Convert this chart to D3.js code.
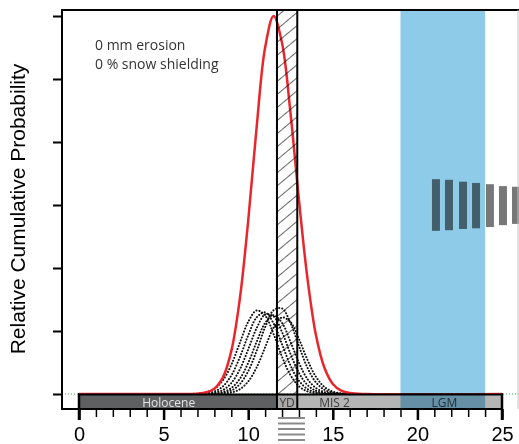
<!DOCTYPE html>
<head>
<meta charset="utf-8">
<script src="https://d3js.org/d3.v7.min.js"></script>
</head>
<style>
body { margin: 0; background: #fff; }
svg { display: block; }
.dots { fill: none; stroke: #111; stroke-width: 2px; stroke-dasharray: 0.1 3; stroke-linecap: round; }
.red { fill: none; stroke: #e8262b; stroke-width: 2.5px; }
.tick line { stroke: #000; }
</style>
<body>
<script>
// exposure ages (ka) and probability
var ageGrid = [0, 6, 7, 7.5, 8, 8.5, 9, 9.5, 10, 10.5, 11, 11.5, 12, 12.5, 13, 13.5, 14, 14.5, 15, 15.5, 16, 17, 25];
var sumProb = [0, 0, 0.005, 0.023, 0.085, 0.26, 0.68, 1.50, 2.75, 4.24, 5.50, 6.0, 5.57, 4.46, 3.08, 1.84, 0.94, 0.42, 0.16, 0.053, 0.015, 0, 0];
var sample1 = [0, 0, .006, .025, .081, .215, .462, .807, 1.146, 1.325, 1.245, .952, .592, .299, .123, .041, .011, .003, 0, 0, 0, 0, 0];
var sample2 = [0, 0, .002, .011, .040, .120, .293, .579, .931, 1.217, 1.295, 1.121, .789, .451, .211, .080, .025, .006, .001, 0, 0, 0, 0];
var sample3 = [0, 0, .001, .004, .019, .063, .173, .388, .707, 1.046, 1.260, 1.233, .983, .636, .335, .143, .050, .014, .003, .001, 0, 0, 0];
var sample4 = [0, 0, 0, .002, .008, .030, .095, .239, .494, .828, 1.128, 1.25, 1.128, .828, .494, .239, .095, .030, .008, .002, 0, 0, 0];
var sample5 = [0, 0, 0, .001, .004, .015, .054, .155, .362, .686, 1.060, 1.329, 1.358, 1.127, .762, .418, .186, .068, .020, .005, .001, 0, 0];
var sample6 = [0, 0, 0, 0, .001, .006, .023, .075, .198, .423, .741, 1.052, 1.215, 1.142, .874, .543, .275, .113, .038, .010, .002, 0, 0];
var samples = [sample1, sample2, sample3, sample4, sample5, sample6];

var periodName = ["Holocene", "YD", "MIS 2"];
var periodStart = [0, 11.7, 12.9];
var periodEnd = [11.7, 12.9, 25];
var periodFill = ["#5e6062", "#ababab", "#b5b5b5"];
var labelText = ["Holocene", "YD", "MIS 2", "LGM"];
var labelAge = [5.3, 12.3, 15.1, 21.6];
var lgmStart = 19, lgmEnd = 24;

var stripeAge = [20.86, 21.63, 22.46, 23.23, 24.05, 24.82, 25.59];
var stripeTop = [3.41, 3.40, 3.37, 3.35, 3.33, 3.30, 3.29];
var stripeBottom = [2.59, 2.60, 2.62, 2.63, 2.65, 2.68, 2.70];

var majorTicks = [0, 5, 10, 15, 20, 25];
var yTicks = [0, 1, 2, 3, 4, 5, 6];

var W = 519, H = 444;
var plotLeft = 62, plotTop = 10, plotBottom = 409;
var barTop = 395;

var x = d3.scaleLinear().domain([0, 25]).range([79, 502]);
var y = d3.scaleLinear().domain([0, 6]).range([394, 16]);

var svg = d3.select("body").append("svg")
    .attr("width", W)
    .attr("height", H)
    .style("font-family", "'Liberation Sans', Arial, sans-serif");

var defs = svg.append("defs");
defs.append("pattern")
    .attr("id", "hatch")
    .attr("patternUnits", "userSpaceOnUse")
    .attr("width", 10).attr("height", 10)
    .attr("patternTransform", "rotate(-40)")
  .append("line")
    .attr("x1", 0).attr("y1", 0).attr("x2", 10).attr("y2", 0)
    .attr("stroke", "#000").attr("stroke-width", 1.2);

// grey stripes on the right
svg.append("g").selectAll("rect")
    .data(stripeAge)
  .enter().append("rect")
    .attr("x", function(d) { return x(d); })
    .attr("width", 8)
    .attr("y", function(d, i) { return y(stripeTop[i]); })
    .attr("height", function(d, i) { return y(stripeBottom[i]) - y(stripeTop[i]); })
    .attr("fill", "#777");

// green zero line
svg.append("line")
    .attr("x1", plotLeft).attr("x2", W)
    .attr("y1", y(0)).attr("y2", y(0))
    .attr("stroke", "#3aa84a").attr("stroke-width", 1)
    .attr("stroke-dasharray", "1 2");

var line = d3.line()
    .x(function(d, i) { return x(ageGrid[i]); })
    .y(function(d) { return y(d); })
    .curve(d3.curveCatmullRom);

svg.append("g").selectAll("path")
    .data(samples)
  .enter().append("path")
    .attr("class", "dots")
    .attr("d", line);

svg.append("path")
    .datum(sumProb)
    .attr("class", "red")
    .attr("d", line);

// Younger Dryas hatched band
svg.append("rect")
    .attr("x", x(11.7)).attr("y", plotTop)
    .attr("width", x(12.9) - x(11.7)).attr("height", plotBottom - plotTop)
    .attr("fill", "url(#hatch)");

// timeline bar
var bar = svg.append("g");
bar.selectAll("rect")
    .data(periodName)
  .enter().append("rect")
    .attr("x", function(d, i) { return x(periodStart[i]); })
    .attr("width", function(d, i) { return x(periodEnd[i]) - x(periodStart[i]); })
    .attr("y", barTop)
    .attr("height", plotBottom - barTop)
    .attr("fill", function(d, i) { return periodFill[i]; });
bar.selectAll("text")
    .data(labelText)
  .enter().append("text")
    .attr("x", function(d, i) { return x(labelAge[i]); })
    .attr("y", 407)
    .attr("text-anchor", "middle")
    .style("font-family", "'Open Sans', sans-serif")
    .style("font-size", "12px")
    .attr("fill", function(d, i) { return i == 0 ? "#e4e4e4" : "#3a3a3a"; })
    .text(function(d) { return d; });
bar.append("line")
    .attr("x1", x(0)).attr("x2", x(25))
    .attr("y1", barTop - 0.5).attr("y2", barTop - 0.5)
    .attr("stroke", "#000").attr("stroke-width", 2);

// band edges
svg.append("g").selectAll("line")
    .data([11.7, 12.9])
  .enter().append("line")
    .attr("x1", function(d) { return x(d); }).attr("x2", function(d) { return x(d); })
    .attr("y1", plotTop).attr("y2", plotBottom)
    .attr("stroke", "#000").attr("stroke-width", 2);

// little grey stack below YD
svg.append("g").selectAll("line")
    .data(d3.range(5))
  .enter().append("line")
    .attr("x1", x(11.7) + 1).attr("x2", x(11.7) + 28)
    .attr("y1", function(d) { return 418 + d * 5.5; })
    .attr("y2", function(d) { return 418 + d * 5.5; })
    .attr("stroke", "#8a8a8a").attr("stroke-width", 2);

// axes
var minor = svg.append("g")
    .attr("transform", "translate(0," + plotBottom + ")")
    .call(d3.axisBottom(x).tickValues(d3.range(0, 26)).tickSize(8).tickFormat(""));
minor.select(".domain").remove();
minor.selectAll("line").attr("stroke-width", 1.5);

var major = svg.append("g")
    .attr("transform", "translate(0," + plotBottom + ")")
    .call(d3.axisBottom(x).tickValues(majorTicks).tickSize(11).tickPadding(7));
major.select(".domain").remove();
major.selectAll("line").attr("stroke-width", 2.5);
major.selectAll("text")
    .attr("fill", "#000")
    .style("font-family", "'Liberation Sans', Arial, sans-serif")
    .style("font-size", "20px");

var yAxis = svg.append("g")
    .attr("transform", "translate(" + plotLeft + ",0)")
    .call(d3.axisLeft(y).tickValues(yTicks).tickSize(9).tickFormat(""));
yAxis.select(".domain").remove();
yAxis.selectAll("line").attr("stroke-width", 2);

// bar ends reach up to the baseline
svg.append("g").selectAll("line")
    .data([0, 25])
  .enter().append("line")
    .attr("x1", function(d) { return x(d); }).attr("x2", function(d) { return x(d); })
    .attr("y1", y(0)).attr("y2", plotBottom + 11)
    .attr("stroke", "#000").attr("stroke-width", 2.5);

// frame
svg.append("path")
    .attr("d", "M" + W + "," + plotTop + "H" + plotLeft + "V" + plotBottom + "H" + x(25))
    .attr("fill", "none").attr("stroke", "#000").attr("stroke-width", 2);
svg.append("line")
    .attr("x1", 518).attr("x2", 518).attr("y1", plotTop).attr("y2", plotBottom)
    .attr("stroke", "#c4c4c4").attr("stroke-width", 1);

// LGM band, multiplied over what is beneath
svg.append("rect")
    .attr("x", x(lgmStart)).attr("y", plotTop + 1)
    .attr("width", x(lgmEnd) - x(lgmStart)).attr("height", plotBottom - plotTop - 1)
    .attr("fill", "#8ecbe8")
    .style("mix-blend-mode", "multiply");

// notes
var note = svg.append("g")
    .style("font-family", "'Open Sans', sans-serif")
    .style("font-size", "14px")
    .attr("fill", "#333");
note.append("text").attr("x", 95).attr("y", 50).text("0 mm erosion");
note.append("text").attr("x", 95).attr("y", 69).text("0 % snow shielding");

svg.append("text")
    .attr("transform", "translate(25," + 209 + ") rotate(-90)")
    .attr("text-anchor", "middle")
    .style("font-size", "21px")
    .attr("fill", "#000")
    .text("Relative Cumulative Probability");
</script>
</body>
